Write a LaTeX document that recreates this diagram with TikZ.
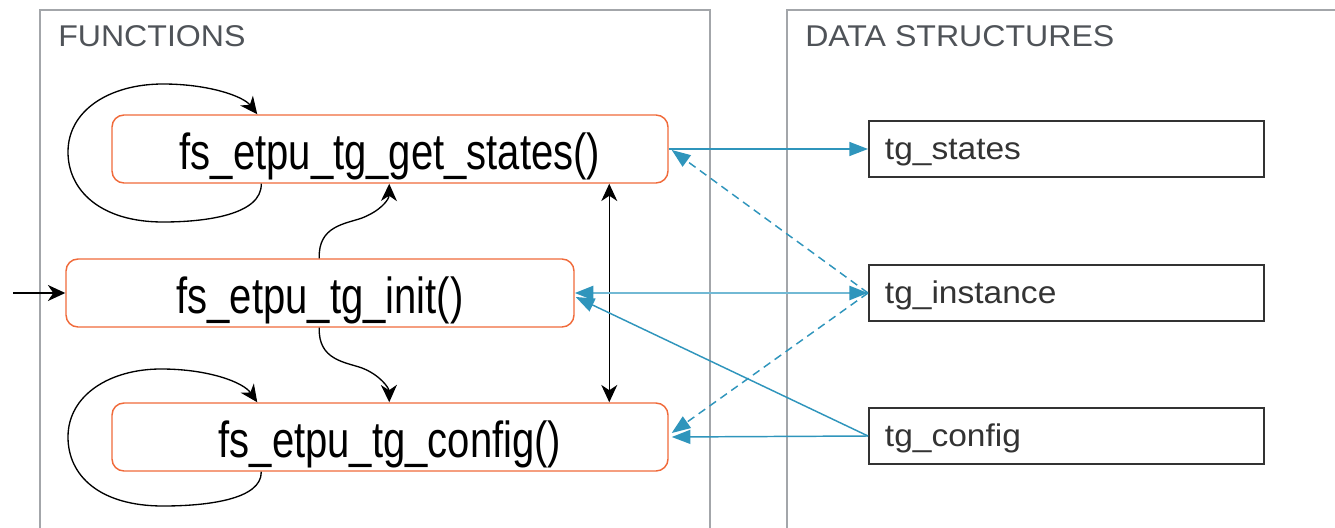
\documentclass[tikz,border=0pt]{standalone}
\usepackage{fontspec}
\setmainfont{Liberation Sans}
\newfontfamily\fnfont[FakeStretch=0.79]{Liberation Sans}
\newfontfamily\lblfont[FakeStretch=1.07]{Liberation Sans}
\usetikzlibrary{arrows.meta,calc}
\definecolor{panelgray}{HTML}{A3A6AA}
\definecolor{titlegray}{HTML}{4F5358}
\definecolor{fnorange}{HTML}{F06A3A}
\definecolor{flowblue}{HTML}{2F95BC}
\definecolor{flowlight}{HTML}{72B9D4}
\definecolor{boxdark}{HTML}{333333}
\begin{document}
\begin{tikzpicture}[x=0.75pt,y=-0.75pt,
  panel/.style={draw=panelgray,line width=1.5pt},
  paneltitle/.style={anchor=base west,inner sep=0pt,text=titlegray,
    font=\lblfont\fontsize{22.5}{27}\selectfont},
  fnbox/.style={draw=fnorange,line width=1.1pt,rounded corners=9pt,
    minimum height=51pt,inner sep=0pt,text height=31pt,text depth=0pt,
    font=\fnfont\fontsize{38}{45}\selectfont},
  databox/.style={draw=boxdark,line width=1.4pt,anchor=west,
    minimum height=42pt,text width=272.25pt,inner xsep=12pt,inner ysep=0pt,
    text height=15pt,text depth=0pt,
    align=left,text=boxdark,font=\lblfont\fontsize{23.5}{28}\selectfont},
  blk/.tip={Stealth[length=13pt,width=12pt,inset=4pt]},
  tri/.tip={Triangle[length=14pt,width=10.5pt]},
  darktri/.tip={Triangle[length=14pt,width=10.5pt,color=flowblue]},
  call/.style={draw=black,line width=1pt,-blk},
  bothcall/.style={draw=black,line width=1pt,blk-blk},
  flow/.style={draw=flowblue,line width=1.1pt,-tri},
  dflow/.style={flow,dash pattern=on 6pt off 4pt},
]
\useasboundingbox (0,0) rectangle (1335,528);
\clip (0,0) rectangle (1335,528);

% panels
\draw[panel] (40,10) rectangle (710,600);
\draw[panel] (787,10) rectangle (1400,600);
\node[paneltitle] (tfun) at (58,47) {FUNCTIONS};
\node[paneltitle] (tdat) at (805,47) {DATA STRUCTURES};

% functions
\node[fnbox,minimum width=417pt] (gs)   at (390,149) {fs\_etpu\_tg\_get\_states()};
\node[fnbox,minimum width=381pt] (init) at (320,293) {fs\_etpu\_tg\_init()};
\node[fnbox,minimum width=417pt] (cfg)  at (390,437) {fs\_etpu\_tg\_config()};

% data structures
\node[databox] (ts) at (868,149) {tg\_states};
\node[databox] (ti) at (868,293) {tg\_instance};
\node[databox] (tc) at (868,436) {tg\_config};

% entry into init
\coordinate (entry) at (13,293);
\draw[call] (entry) -- (init.west);

% self loops
\draw[call] ($(gs.south west)+(150,0)$)
  .. controls (262,215) and (205,222) .. (163,222)
  .. controls (100,222) and (68,190) .. (68,152)
  .. controls (68,110) and (110,84) .. (163,84)
  .. controls (208,84) and (243,96) .. ($(gs.north west)+(146,0)$);
\draw[call] ($(cfg.south west)+(150,0)$)
  .. controls (262,500) and (205,506) .. (163,506)
  .. controls (100,506) and (68,476) .. (68,437)
  .. controls (68,395) and (110,369) .. (161,369)
  .. controls (208,369) and (243,382) .. ($(cfg.north west)+(146,0)$);

% init -> get_states, init -> config
\draw[call] ($(init.north west)+(254,0)$)
  .. controls (318,226) and (345,224) .. (362,218)
  .. controls (380,211) and (389,200) .. ($(gs.south west)+(278,0)$);
\draw[call] ($(init.south west)+(254,0)$)
  .. controls (318,360) and (345,362) .. (362,368)
  .. controls (380,375) and (389,388) .. ($(cfg.north west)+(278,0)$);

% get_states <-> config
\draw[bothcall] ($(gs.south west)+(498,0)$) -- ($(cfg.north west)+(498,0)$);

% data flows
\draw[flow] (gs.east) -- (ts.west);
\draw[dflow] (ti.west) -- ($(gs.east)+(3,1)$);
\draw[flow,draw=flowlight,line width=2pt,darktri-darktri] (init.east) -- (ti.west);
\draw[dflow] (ti.west) -- ($(cfg.east)+(3,-4)$);
\draw[flow] (tc.west) -- ($(init.east)+(1,4)$);
\draw[flow] (tc.west) -- ($(cfg.east)+(3,0)$);
\end{tikzpicture}
\end{document}
